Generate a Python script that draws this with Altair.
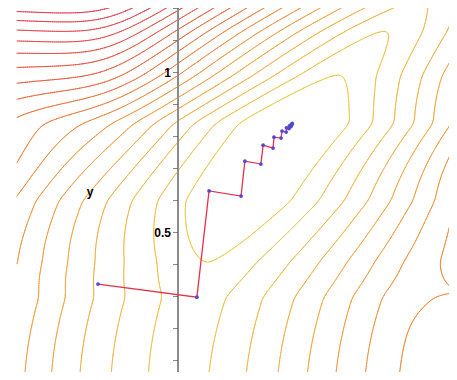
import numpy as np
import pandas as pd
import altair as alt

# ---- steepest-descent path (data units) ----
path_x = [-0.250, 0.059, 0.097, 0.197, 0.209, 0.259, 0.266, 0.297, 0.300, 0.322,
          0.325, 0.338, 0.339, 0.347, 0.348, 0.353, 0.354, 0.356, 0.357]
path_y = [0.339, 0.298, 0.630, 0.614, 0.723, 0.714, 0.773, 0.764, 0.798, 0.795,
          0.817, 0.814, 0.827, 0.825, 0.833, 0.831, 0.838, 0.837, 0.841]

# ---- contour levels ----
levels = [1.6, 2.6, 3.6, 4.6, 5.6, 6.6, 7.6, 8.6, 9.6, 10.6, 11.6, 12.6, 13.6,
          14.6, 15.6, 16.6, 17.6, 18.6, 19.6, 20.6, 21.6, 22.6, 23.6, 24.6,
          25.6, 26.6, 27.6, 28.6, 29.6, 30.6]
level_colors = ["#eccb4a", "#f2b444", "#f0903c", "#e85a40", "#e0385a"]
level_stops = [1.6, 4.0, 8.0, 13.0, 20.0]

# valley-floor profile knots (offset from the minimum's y, value)
prof_u = [-0.90, -0.842, -0.542, -0.432, -0.242, 0.0, 0.148, 0.288, 0.378, 0.458]
prof_v = [2.16, 2.15, 2.10, 1.60, 0.36, 0.0, 1.60, 2.60, 3.50, 4.30]

# y axis
tick_values = [0.1, 0.2, 0.3, 0.4, 0.5, 0.6, 0.7, 0.8, 0.9, 1.0, 1.1, 1.2]
label_values = [0.5, 1.0]
label_texts = ["0.5", "1"]

x_domain = [-0.53125, 0.846875]
y_domain = [0.0641, 1.2016]
y_min = 0.842


def smoothstep(t):
    t = np.clip(t, 0, 1)
    return t * t * (3 - 2 * t)


def sigmoid(t):
    return 1 / (1 + np.exp(-t))


def profile(u):
    fine = np.linspace(-0.95, 0.5, 600)
    base = np.interp(fine, prof_u, prof_v)
    k = np.ones(15) / 15.0
    sm = np.convolve(np.pad(base, 7, mode="edge"), k, mode="valid")
    return np.interp(u, fine, sm)


def surface(x, y):
    xp = 2 * x
    v = xp - (0.96 * y ** 2 + 0.06 * y - 0.004)
    e = 0.06
    g = (v ** 2 + e ** 2) ** 0.65 - e ** 1.3
    # right wall levels off in the lower right
    tau, gc = 0.3, 1.6
    gcap = -tau * np.log(np.exp(-g / tau) + np.exp(-gc / tau))
    w = sigmoid((0.55 - y) / 0.07)
    g = np.where(v > 0, w * gcap + (1 - w) * g, g)
    a = 4.83 + 2.4 * smoothstep((y - 0.3) / 0.7)
    f = a * g + profile(y - y_min)
    # flattening of the upper-left wall (ridge)
    s = 0.06
    f -= 27 * sigmoid((y - 0.85) / 0.1) * s * np.log1p(np.exp((-0.22 - x) / s))
    # pass towards the lower right
    f -= 1.0 * np.exp(-((x - 0.95) / 0.16) ** 2 - ((y - 0.29) / 0.09) ** 2)
    return f


def contour_segments(xs, ys, F, level):
    v0 = F[:-1, :-1]; v1 = F[:-1, 1:]; v2 = F[1:, 1:]; v3 = F[1:, :-1]
    X0, Y0 = np.meshgrid(xs[:-1], ys[:-1])
    X1, Y1 = np.meshgrid(xs[1:], ys[1:])
    corners = [(X0, Y0, v0), (X1, Y0, v1), (X1, Y1, v2), (X0, Y1, v3)]
    ex, ey, cr = [], [], []
    for k in range(4):
        ax, ay, av = corners[k]
        bx, by, bv = corners[(k + 1) % 4]
        c = (av - level) * (bv - level) < 0
        with np.errstate(divide="ignore", invalid="ignore"):
            t = np.where(c, (level - av) / (bv - av), 0.0)
        ex.append(ax + t * (bx - ax)); ey.append(ay + t * (by - ay)); cr.append(c)
    ex = np.stack(ex); ey = np.stack(ey); cr = np.stack(cr)
    cnt = cr.sum(axis=0)
    segs = []
    j, i = np.where(cnt == 2)
    for a, b in zip(j, i):
        ks = np.where(cr[:, a, b])[0]
        segs.append((ex[ks[0], a, b], ey[ks[0], a, b], ex[ks[1], a, b], ey[ks[1], a, b]))
    j, i = np.where(cnt == 4)
    for a, b in zip(j, i):
        center = (v0[a, b] + v1[a, b] + v2[a, b] + v3[a, b]) / 4
        pairs = [(0, 1), (2, 3)] if (center > level) == (v0[a, b] > level) else [(0, 3), (1, 2)]
        for p, q in pairs:
            segs.append((ex[p, a, b], ey[p, a, b], ex[q, a, b], ey[q, a, b]))
    return segs


gx = np.linspace(-0.503, 0.86, 210)
gy = np.linspace(0.03, 1.23, 190)
GX, GY = np.meshgrid(gx, gy)
F = surface(GX, GY)

rows = []
for L in levels:
    for s in contour_segments(gx, gy, F, L):
        rows.append({"x": s[0], "y": s[1], "x2": s[2], "y2": s[3], "level": L})
seg_df = pd.DataFrame(rows)

path_df = pd.DataFrame({"x": path_x, "y": path_y, "step": list(range(len(path_x)))})
tick_df = pd.DataFrame({"x": [0.0] * len(tick_values), "y": tick_values})
lab_df = pd.DataFrame({"x": [0.0] * len(label_values), "y": label_values, "t": label_texts})
axis_df = pd.DataFrame({"x": [0.0]})
title_df = pd.DataFrame({"x": [-0.275], "y": [0.627], "t": ["y"]})

xscale = alt.Scale(domain=x_domain, nice=False, zero=False)
yscale = alt.Scale(domain=y_domain, nice=False, zero=False)
X = lambda: alt.X("x:Q", scale=xscale, axis=None)
Y = lambda: alt.Y("y:Q", scale=yscale, axis=None)

contours = alt.Chart(seg_df).mark_rule(strokeWidth=1, clip=True, strokeCap="round").encode(
    x=X(), y=Y(), x2="x2:Q", y2="y2:Q",
    color=alt.Color("level:Q", scale=alt.Scale(domain=level_stops, range=level_colors), legend=None),
)

axis_line = alt.Chart(axis_df).mark_rule(color="#8c8c8c", strokeWidth=2).encode(x=X())
ticks = alt.Chart(tick_df).mark_tick(orient="horizontal", size=5, thickness=1,
                                     color="#555555", xOffset=-2.5).encode(x=X(), y=Y())
labels = alt.Chart(lab_df).mark_text(align="right", baseline="middle", dx=-7,
                                     font="Liberation Sans", fontWeight="bold",
                                     fontSize=12, color="#000000").encode(x=X(), y=Y(), text="t:N")
title = alt.Chart(title_df).mark_text(align="center", baseline="middle",
                                      font="Liberation Sans", fontWeight="bold",
                                      fontSize=12, color="#000000").encode(x=X(), y=Y(), text="t:N")

line = alt.Chart(path_df).mark_line(color="#e8304a", strokeWidth=1.3, clip=True).encode(
    x=X(), y=Y(), order="step:Q")

pts = alt.Chart(path_df).mark_circle(size=14, color="#5448d0", opacity=1, clip=True).encode(
    x=X(), y=Y())

chart = alt.layer(contours, axis_line, ticks, labels, title, line, pts).properties(
    width=441, height=364, padding=0, autosize="none", background="white"
).configure_view(stroke=None)

chart.save("out.html", embed_options={"renderer": "svg", "actions": False})
